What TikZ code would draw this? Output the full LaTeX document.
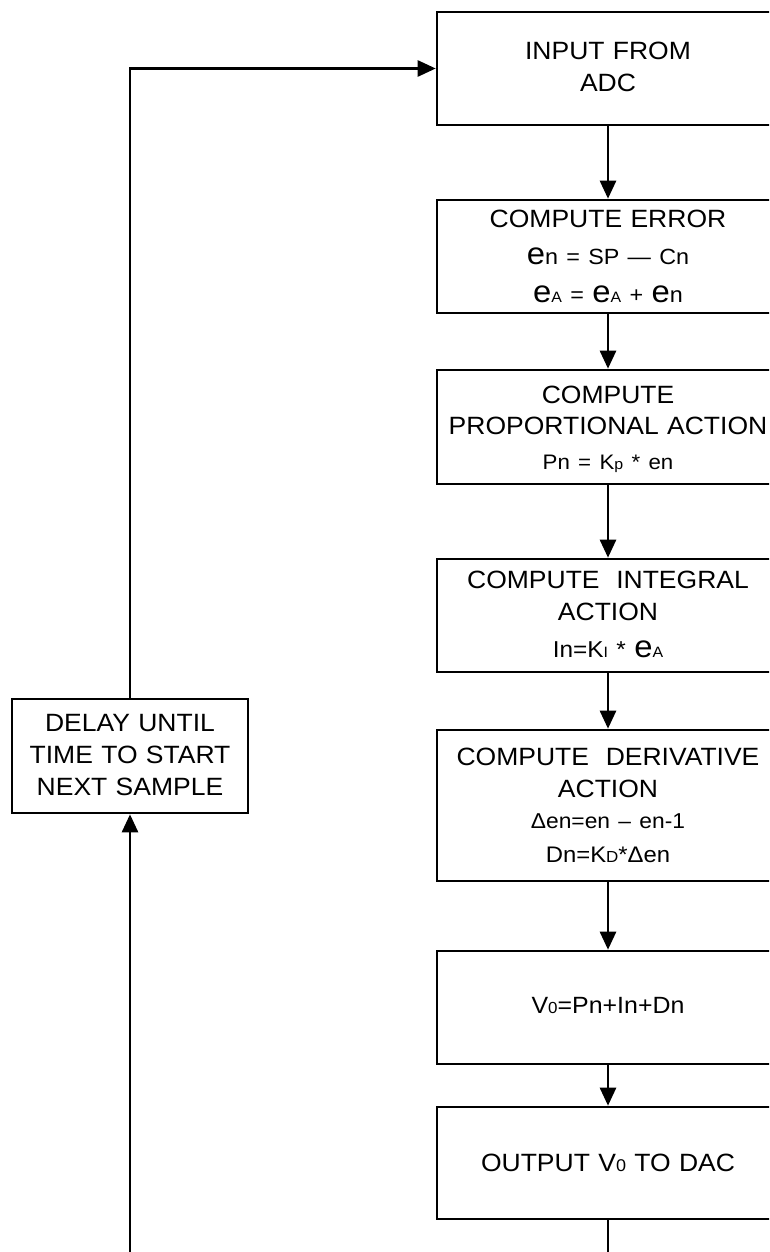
\documentclass[tikz,border=0pt]{standalone}
\usepackage{fontspec}
\setmainfont{Liberation Sans}[FakeStretch=1.06]
\usetikzlibrary{arrows.meta}
% small index letters set on the baseline
\newcommand\lo[2][15]{{\fontsize{#1}{#1}\selectfont #2}}
% enlarged letter e used for the error terms
\newcommand\bige{{\fontsize{31}{31}\selectfont e}}
\newcommand\ttl{\fontsize{25}{31.5}\selectfont}
\newcommand\fs[1]{\fontsize{#1}{#1}\selectfont}
\begin{document}
\begin{tikzpicture}[x=1pt,y=-1pt,
  box/.style={draw,line width=2.6pt,text width=342pt,align=center,inner sep=0pt,anchor=base,font=\ttl},
  lbox/.style={box,text width=236pt},
  arr/.style={line width=2.6pt,-{Triangle[length=18pt,width=16pt]}}]
\useasboundingbox (0,0) rectangle (769,1252);
\fill[white] (0,0) rectangle (769,1252);
\clip (0,0) rectangle (769,1252);

% each box: placed by the baseline of its first line; text height/depth give its top and bottom
\node[box,text height=48pt,text depth=65pt] (b1) at (608,60)
  {INPUT FROM\\[0.5pt]ADC};
\node[box,text height=27pt,text depth=86pt] (b2) at (608,227)
  {COMPUTE ERROR\\[5.5pt]
   {\fs{22}\bige n = SP — Cn}\\[6.5pt]
   {\fs{22}\bige\lo{A} = \bige\lo{A} + \bige n}};
\node[box,text height=33pt,text depth=81pt] (b3) at (608,403)
  {COMPUTE\\[-0.5pt]PROPORTIONAL ACTION\\[4pt]
   {\fs{21}Pn = K\lo{p} * en}};
\node[box,text height=29pt,text depth=84pt] (b4) at (608,588)
  {COMPUTE\ \ INTEGRAL\\[0.5pt]ACTION\\[5.5pt]
   {\fs{23}In=K\lo{I} * \bige\lo{A}}};
\node[box,text height=35pt,text depth=116pt] (b5) at (608,765)
  {COMPUTE\ \ DERIVATIVE\\[0.5pt]ACTION\\[-0.5pt]
   {\fs{21.5}Δen=en – en-1}\\[2.5pt]
   {\fs{22.5}Dn=K\lo[16]{D}*Δen}};
\node[box,text height=62pt,text depth=51pt] (b6) at (608,1013)
  {\fs{23.5}V\lo[16]{0}=Pn+In+Dn};
\node[box,text height=64pt,text depth=48pt] (b7) at (608,1171)
  {OUTPUT V\lo[17]{0} TO DAC};

\node[lbox,text height=32pt,text depth=82pt] (dl) at (130,731)
  {DELAY UNTIL\\[0.5pt]TIME TO START\\[0.5pt]NEXT SAMPLE};

\draw[arr] (b1) -- (b2);
\draw[arr] (b2) -- (b3);
\draw[arr] (b3) -- (b4);
\draw[arr] (b4) -- (b5);
\draw[arr] (b5) -- (b6);
\draw[arr] (b6) -- (b7);
\draw[arr] (b7.south) -- ++(0,80) -| (dl.south);
\draw[arr] (dl.north) |- (b1.west);
\end{tikzpicture}
\end{document}
